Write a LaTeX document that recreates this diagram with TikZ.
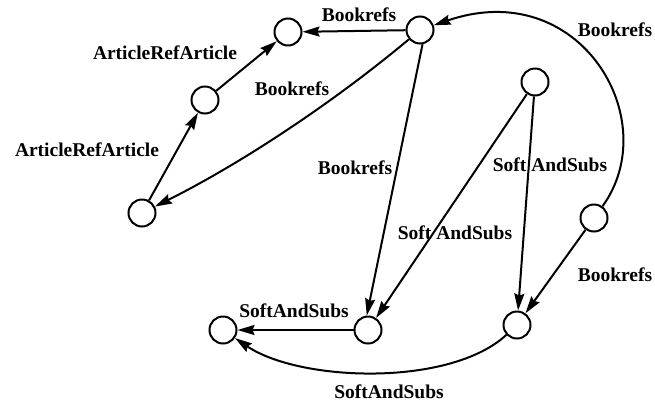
\documentclass[tikz,border=0pt]{standalone}
\usepackage{fontspec}
\setmainfont{Liberation Serif}
\usetikzlibrary{arrows.meta}
\begin{document}
\begin{tikzpicture}[x=1pt,y=-1pt,
  vtx/.style={circle,draw,line width=2pt,minimum size=27pt,inner sep=0pt},
  edge/.style={line width=2pt,-{Stealth[length=17pt,width=10pt,inset=2pt]}},
  lbl/.style={inner sep=0pt,font=\fontsize{19.5}{22}\selectfont\bfseries}]
\useasboundingbox (0,0) rectangle (655,405);
\node[vtx] (A) at (288,32) {};
\node[vtx] (B) at (420,30) {};
\node[vtx] (C) at (205,100) {};
\node[vtx] (D) at (142,213) {};
\node[vtx] (E) at (535,82) {};
\node[vtx] (F) at (594,218) {};
\node[vtx] (G) at (368,330) {};
\node[vtx] (H) at (517,325) {};
\node[vtx] (I) at (223,330) {};
\draw[edge] (B) -- (A);
\draw[edge] (C) -- (A);
\draw[edge] (D) -- (C);
\draw[edge] (B) .. controls (334,102) and (242,163) .. (D);
\draw[edge] (B.-80) -- (G.95);
\draw[edge] (E) -- (G);
\draw[edge] (E) -- (H);
\draw[edge] (F) -- (H);
\draw[edge] (F) .. controls (665,120) and (580,-25) .. (B);
\draw[edge] (G) -- (I);
\draw[edge] (H) .. controls (450,387) and (300,382) .. (I);
\node[lbl] (l1) at (359,15) {Bookrefs};
\node[lbl] (l2) at (165,53) {ArticleRefArticle};
\node[lbl] (l3) at (87,150) {ArticleRefArticle};
\node[lbl] (l4) at (292,89) {Bookrefs};
\node[lbl] (l5) at (355,168) {Bookrefs};
\node[lbl] (l6) at (455,233) {Soft AndSubs};
\node[lbl] (l7) at (550,165) {Soft AndSubs};
\node[lbl] (l8) at (615,30) {Bookrefs};
\node[lbl] (l9) at (615,275) {Bookrefs};
\node[lbl] (l10) at (294,311) {SoftAndSubs};
\node[lbl] (l11) at (389,392) {SoftAndSubs};
\end{tikzpicture}
\end{document}
